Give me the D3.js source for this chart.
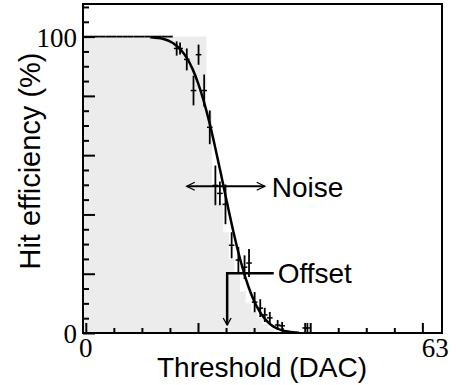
<!DOCTYPE html>
<html>
<head>
<meta charset="utf-8">
<script src="https://cdn.jsdelivr.net/npm/d3@7"></script>
<style>
  body { margin: 0; background: #fff; }
  svg { display: block; }
</style>
</head>
<body>
<svg width="456" height="385"></svg>
<script>
// pontos medidos (limiar DAC, eficiencia %, erro %)
var platoT = [0, 1, 2, 3, 4, 5, 6, 7, 8, 9, 10, 11, 12, 13, 14, 15];
var pontoT = [16.2, 16.8, 18.0, 19.2, 20.1, 21.1, 22.1, 23.1, 23.9, 24.9, 26.0, 27.2, 28.3, 29.1, 30.1, 31.1, 31.9, 32.8, 34.2, 35.0, 39.1, 39.5];
var pontoEff = [96.0, 96.0, 92.3, 81.8, 93.9, 81.8, 69.4, 49.8, 47.1, 43.4, 29.6, 24.6, 22.2, 23.6, 10.4, 8.4, 6.1, 5.1, 2.7, 2.4, 1.7, 1.7];
var pontoErr = [2.4, 2.0, 3.7, 5.0, 3.4, 5.4, 5.7, 6.7, 4.0, 6.7, 4.4, 4.4, 4.0, 4.7, 3.4, 3.0, 2.4, 2.0, 1.7, 1.3, 1.7, 1.7];

// curva ajustada
var ajusteT = [11.5, 12, 13, 14, 15, 16, 17, 18, 19, 20, 21, 22, 23, 24, 25, 26, 27, 28, 29, 30, 31, 32, 33, 34, 35, 36, 37, 38];
var ajusteEff = [99.8, 99.7, 99.5, 99.1, 98.4, 97.2, 95.4, 92.8, 89.2, 84.4, 78.4, 71.3, 63.2, 54.5, 45.5, 36.8, 28.7, 21.6, 15.6, 10.8, 7.2, 4.6, 2.8, 1.6, 0.9, 0.5, 0.25, 0.12];

// histograma cinza (por bin)
var fundoBin = [0, 1, 2, 3, 4, 5, 6, 7, 8, 9, 10, 11, 12, 13, 14, 15, 16, 17, 18, 19, 20, 21, 22, 23, 24, 25, 26, 27, 28, 29, 30, 31, 32, 33];
var fundoEff = [100, 100, 100, 100, 100, 100, 100, 100, 100, 100, 100, 100, 100, 100, 100, 100, 100, 100, 100, 100, 100, 100, 75, 50, 44, 34, 25, 20, 14, 10, 7, 5, 3, 1.5];

var ticksX = [0, 5, 10, 15, 20, 25, 30, 35, 40, 45, 50, 55, 60];
var ticksXMaior = [0, 20, 40, 60];
var ticksY = [0, 5, 10, 15, 20, 25, 30, 35, 40, 45, 50, 55, 60, 65, 70, 75, 80, 85, 90, 95, 100, 105, 110];
var ticksYMaior = [0, 20, 40, 60, 80, 100];
var rotulosX = [0, 63];
var rotulosY = [0, 100];

var esq = 83, dir = 442, topo = 4, base = 333;
var svg = d3.select("svg");

var x = d3.scaleLinear().domain([-0.5, 63.5]).range([esq, dir]);
var y = d3.scaleLinear().domain([0, 111]).range([base, topo]);

//fundo cinza em degraus
var degraus = fundoBin.map((b, i) => [b - 0.5, fundoEff[i]]);
degraus.push([fundoBin[fundoBin.length - 1] + 0.5, 0]);
svg.append('path')
    .datum(degraus)
    .attr('fill', '#ececec')
    .attr('d', d3.area().curve(d3.curveStepAfter).x(d => x(d[0])).y0(y(0)).y1(d => y(d[1])));

//eixos com ticks para dentro
var eixoY = d3.axisLeft(y).tickValues(ticksY).tickFormat('').tickSizeInner(-6).tickSizeOuter(0);
var gy = svg.append('g').attr('transform', 'translate(' + esq + ',0)').call(eixoY);
gy.selectAll('.tick line').filter(d => ticksYMaior.includes(d)).attr('x2', 12);

var eixoX = d3.axisBottom(x).tickValues(ticksX).tickFormat('').tickSizeInner(-5).tickSizeOuter(0);
var gx = svg.append('g').attr('transform', 'translate(0,' + base + ')').call(eixoX);
gx.selectAll('.tick line').filter(d => ticksXMaior.includes(d)).attr('y2', -10);

svg.selectAll('.domain').remove();
svg.selectAll('.tick line').attr('stroke', '#000').attr('stroke-width', 2);

//moldura
svg.append('rect').attr('x', esq).attr('y', topo).attr('width', dir - esq).attr('height', base - topo)
    .attr('fill', 'none').attr('stroke', '#000').attr('stroke-width', 2);

//rotulos
svg.selectAll('.rotY').data(rotulosY).enter().append('text')
    .attr('x', esq - 6).attr('y', d => y(d) + 10)
    .attr('text-anchor', 'end').attr('font-family', 'Liberation Serif').attr('font-size', 27)
    .text(d => d);
svg.selectAll('.rotX').data(rotulosX).enter().append('text')
    .attr('x', (d, i) => x(d) - i * 4).attr('y', 357)
    .attr('text-anchor', 'middle').attr('font-family', 'Liberation Serif').attr('font-size', 27)
    .text(d => d);

svg.append('text').attr('x', 262).attr('y', 377).attr('text-anchor', 'middle')
    .attr('font-family', 'Liberation Sans').attr('font-size', 28).text('Threshold (DAC)');
svg.append('text').attr('transform', 'translate(40,161) rotate(-90)').attr('text-anchor', 'middle')
    .attr('font-family', 'Liberation Sans').attr('font-size', 29).text('Hit efficiency (%)');

//plato em 100%
svg.selectAll('.plato').data(platoT).enter().append('line')
    .attr('x1', d => x(d - 0.5)).attr('x2', d => x(d + 0.5))
    .attr('y1', y(100)).attr('y2', y(100))
    .attr('stroke', '#000').attr('stroke-width', 1.8);

//pontos com barras de erro
var pts = svg.selectAll('.ponto').data(pontoT).enter().append('g');
pts.append('line')
    .attr('x1', d => x(d)).attr('x2', d => x(d))
    .attr('y1', (d, i) => y(pontoEff[i] + pontoErr[i])).attr('y2', (d, i) => y(Math.max(0, pontoEff[i] - pontoErr[i])))
    .attr('stroke', '#000').attr('stroke-width', 1.8);
pts.append('line')
    .attr('x1', d => x(d - 0.5)).attr('x2', d => x(d + 0.5))
    .attr('y1', (d, i) => y(pontoEff[i])).attr('y2', (d, i) => y(pontoEff[i]))
    .attr('stroke', '#000').attr('stroke-width', 1.5);

//curva do ajuste
svg.append('path')
    .datum(ajusteT.map((t, i) => [t, ajusteEff[i]]))
    .attr('fill', 'none').attr('stroke', '#000').attr('stroke-width', 2.5)
    .attr('d', d3.line().curve(d3.curveMonotoneX).x(d => x(d[0])).y(d => y(d[1])));

//seta Noise
var ny = y(49.5), nx1 = x(18.0), nx2 = x(31.9);
svg.append('line').attr('x1', nx1).attr('x2', nx2).attr('y1', ny).attr('y2', ny)
    .attr('stroke', '#000').attr('stroke-width', 2);
svg.append('path').attr('d', 'M' + (nx1 + 8) + ',' + (ny - 4) + 'L' + nx1 + ',' + ny + 'L' + (nx1 + 8) + ',' + (ny + 4))
    .attr('fill', 'none').attr('stroke', '#000').attr('stroke-width', 1.3);
svg.append('path').attr('d', 'M' + (nx2 - 8) + ',' + (ny - 4) + 'L' + nx2 + ',' + ny + 'L' + (nx2 - 8) + ',' + (ny + 4))
    .attr('fill', 'none').attr('stroke', '#000').attr('stroke-width', 1.3);
svg.append('text').attr('x', nx2 + 7).attr('y', ny + 11)
    .attr('font-family', 'Liberation Sans').attr('font-size', 28).text('Noise');

//seta Offset
var ox = x(25.2), oy = y(20.2), oy2 = y(2.7);
svg.append('path').attr('d', 'M' + x(33.5) + ',' + oy + 'L' + ox + ',' + oy + 'L' + ox + ',' + oy2)
    .attr('fill', 'none').attr('stroke', '#000').attr('stroke-width', 2.5);
svg.append('path').attr('d', 'M' + (ox - 4) + ',' + (oy2 - 7) + 'L' + ox + ',' + oy2 + 'L' + (ox + 4) + ',' + (oy2 - 7))
    .attr('fill', 'none').attr('stroke', '#000').attr('stroke-width', 1.3);
svg.append('text').attr('x', x(33.5) + 4).attr('y', oy + 10)
    .attr('font-family', 'Liberation Sans').attr('font-size', 28).text('Offset');
</script>
</body>
</html>
